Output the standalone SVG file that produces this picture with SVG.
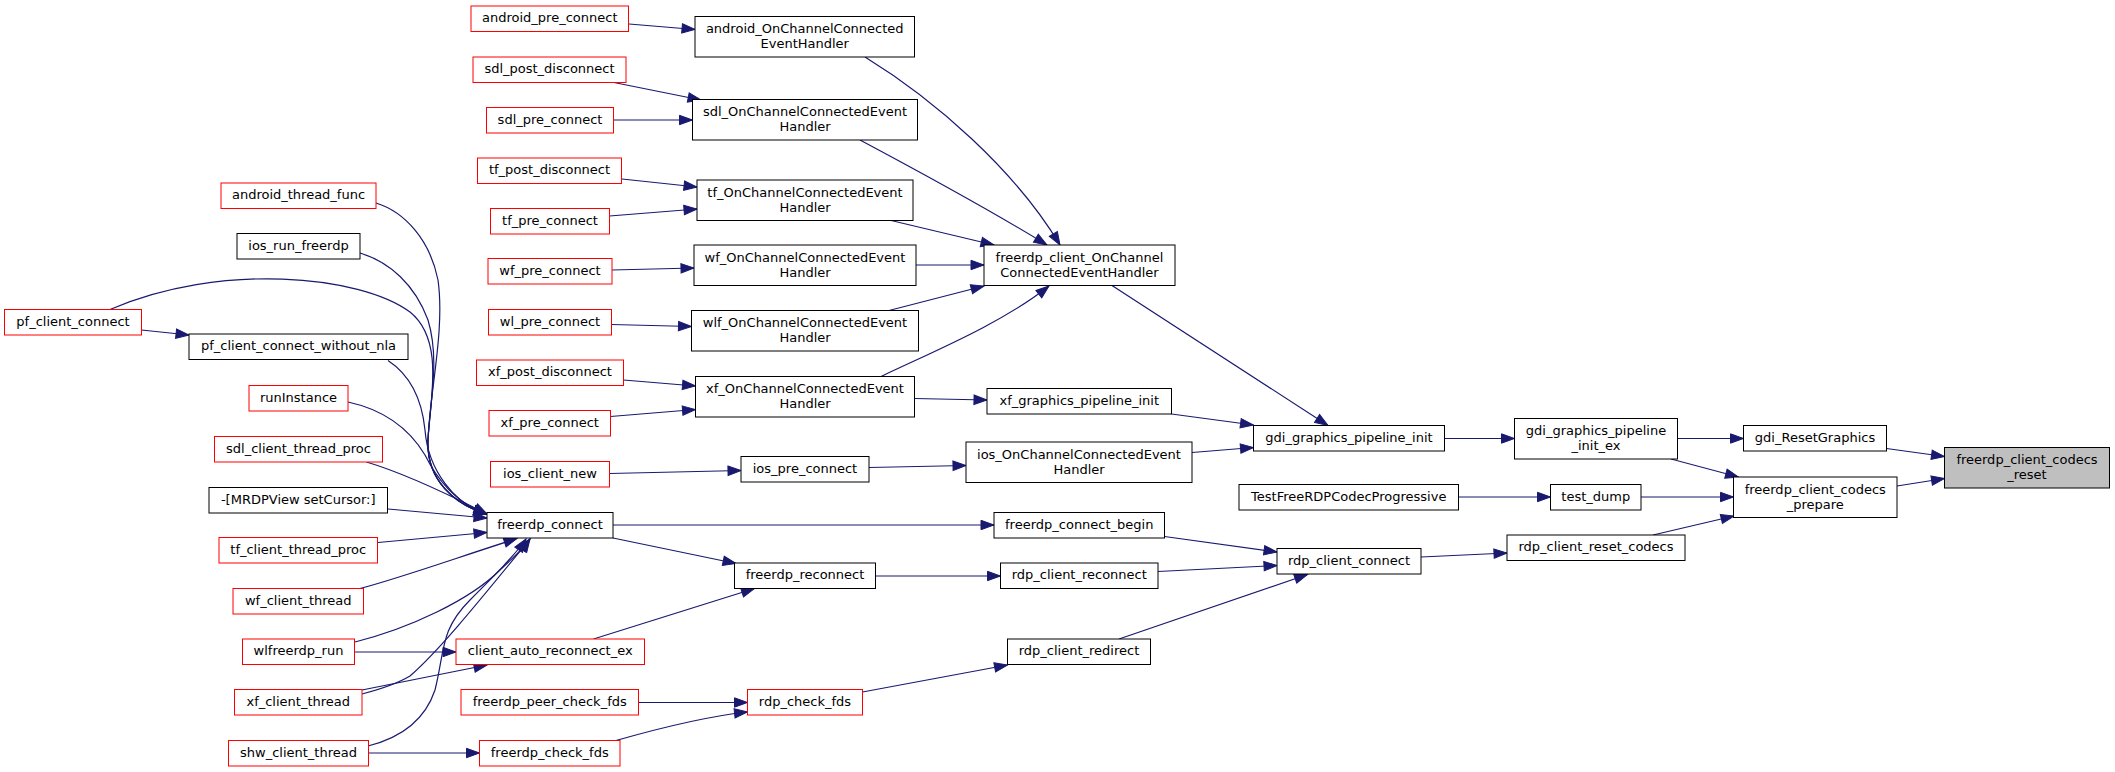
<svg xmlns="http://www.w3.org/2000/svg" width="2115" height="772" viewBox="0 0 2115 772">
<style>
.node rect{fill:#fff;stroke:#000;stroke-width:1}
.node.red rect{stroke:#ff0000}
.node.root rect{fill:#bfbfbf}
.node text{font-family:"DejaVu Sans","Liberation Sans",sans-serif;font-size:13px;fill:#000;text-anchor:middle}
#edges path{fill:none;stroke:#191970;stroke-width:1.2;marker-end:url(#ah)}
</style>
<defs>
<marker id="ah" markerUnits="userSpaceOnUse" markerWidth="14" markerHeight="10" refX="13" refY="4.7" orient="auto" overflow="visible">
<path d="M0,0 L13,4.7 L0,9.4 z" fill="#191970" stroke="#191970" stroke-width="1"/>
</marker>
</defs>
<rect width="2115" height="772" fill="#fff"/>
<g id="edges">
<path d="M629,24 L695,29.5"/>
<path d="M614,82.5 L701,100"/>
<path d="M613.5,120 L692.5,120"/>
<path d="M622,179 L697,187"/>
<path d="M609.5,216 L697,209"/>
<path d="M612,270 L694,268"/>
<path d="M611.5,324.5 L691.5,326.5"/>
<path d="M623.5,380 L695.5,386"/>
<path d="M610.5,416.5 L695.5,409.5"/>
<path d="M609.5,473.5 L741,470.5"/>
<path d="M869,467.5 L966,465.5"/>
<path d="M865,57 C935,100 1015,170 1060,245"/>
<path d="M860,140 C920,172 990,210 1047,245"/>
<path d="M889,220 L994,245"/>
<path d="M916,265 L984,265"/>
<path d="M889,310.5 L984,286"/>
<path d="M880,377 C925,355 1000,325 1049,286"/>
<path d="M914.5,398.5 L987,400"/>
<path d="M1112,285.5 L1328,425.5"/>
<path d="M1171.5,414 L1253.5,425"/>
<path d="M1192,452.5 L1253.5,447.5"/>
<path d="M1444.5,438.5 L1514.5,438.5"/>
<path d="M1677.5,438.5 L1743.5,438.5"/>
<path d="M1671,459 L1738.5,477"/>
<path d="M1886.5,448.5 L1944.5,456.5"/>
<path d="M1897,486 L1944.5,478.5"/>
<path d="M1458.5,497 L1550.5,497"/>
<path d="M1641,497 L1733.5,497"/>
<path d="M1653,535 L1734,516"/>
<path d="M1421,557 L1507,553"/>
<path d="M1164.5,536.5 L1277,552"/>
<path d="M1158,571.5 L1277,565.5"/>
<path d="M1119,639 L1307.5,574.5"/>
<path d="M613,525 L994,525"/>
<path d="M613,538 L736,563.5"/>
<path d="M593.5,639 L754.5,588.5"/>
<path d="M875.5,576 L1000.5,576"/>
<path d="M862.5,692 L1007.5,665"/>
<path d="M638.5,702.5 L747.5,702.5"/>
<path d="M616,740.5 C660,728 710,716 747.5,712"/>
<path d="M141.5,330 L189,335"/>
<path d="M110,309.5 C220,262 360,275 410,312 C445,340 430,400 428,440 C426,480 455,505 487,514"/>
<path d="M376,203 C405,212 430,240 438,280 C445,330 430,390 428,440 C426,480 455,505 487,514"/>
<path d="M360,253 C390,262 415,285 428,320 C440,360 430,400 428,440 C426,480 455,505 487,514"/>
<path d="M388,360.5 C410,375 422,400 425,430 C428,470 455,505 487,514"/>
<path d="M348,402 C385,410 410,430 425,455 C440,485 460,505 487,514"/>
<path d="M366.5,462 C400,472 440,490 487,514"/>
<path d="M388,509 L487,518"/>
<path d="M378,542.5 L487,532.5"/>
<path d="M360,588.5 C400,578 450,560 517,538.5"/>
<path d="M355,642 C410,628 470,600 500,570 C515,556 524,548 530,539"/>
<path d="M354.5,652 L456,652"/>
<path d="M362,694 C385,688 400,682 410,676 C440,650 480,600 530,539"/>
<path d="M362,690 L487,665"/>
<path d="M368,746 C400,738 425,720 435,690 C445,650 440,630 470,600 C495,575 515,555 526,539"/>
<path d="M368.5,753 L479.5,753"/>
</g>
<g id="n_android_pre_connect" class="node red"><rect x="471" y="6" width="157.5" height="25.5"/><text x="549.75" y="22">android_pre_connect</text></g>
<g id="n_sdl_post_disconnect" class="node red"><rect x="473" y="57" width="153" height="25.5"/><text x="549.5" y="73">sdl_post_disconnect</text></g>
<g id="n_sdl_pre_connect" class="node red"><rect x="486.5" y="107.5" width="127" height="25.5"/><text x="550" y="123.5">sdl_pre_connect</text></g>
<g id="n_tf_post_disconnect" class="node red"><rect x="477.5" y="158" width="144" height="25.5"/><text x="549.5" y="174">tf_post_disconnect</text></g>
<g id="n_tf_pre_connect" class="node red"><rect x="490.5" y="208.5" width="119" height="25.5"/><text x="550" y="224.5">tf_pre_connect</text></g>
<g id="n_wf_pre_connect" class="node red"><rect x="488" y="258.5" width="124" height="25.5"/><text x="550" y="274.5">wf_pre_connect</text></g>
<g id="n_wl_pre_connect" class="node red"><rect x="488.5" y="309.5" width="123" height="25.5"/><text x="550" y="325.5">wl_pre_connect</text></g>
<g id="n_xf_post_disconnect" class="node red"><rect x="476.5" y="360" width="147" height="25.5"/><text x="550" y="376">xf_post_disconnect</text></g>
<g id="n_xf_pre_connect" class="node red"><rect x="489" y="410.5" width="121.5" height="25.5"/><text x="549.75" y="426.5">xf_pre_connect</text></g>
<g id="n_ios_client_new" class="node red"><rect x="490.5" y="461.5" width="119" height="25.5"/><text x="550" y="477.5">ios_client_new</text></g>
<g id="n_freerdp_connect" class="node"><rect x="487" y="512.5" width="126" height="25.5"/><text x="550" y="528.5">freerdp_connect</text></g>
<g id="n_client_auto_reconnect_ex" class="node red"><rect x="456" y="639" width="188.5" height="25.5"/><text x="550.25" y="655">client_auto_reconnect_ex</text></g>
<g id="n_freerdp_peer_check_fds" class="node red"><rect x="461" y="689.5" width="177.5" height="25.5"/><text x="549.75" y="705.5">freerdp_peer_check_fds</text></g>
<g id="n_freerdp_check_fds" class="node red"><rect x="479.5" y="740.5" width="140.5" height="25.5"/><text x="549.75" y="756.5">freerdp_check_fds</text></g>
<g id="n_android_thread_func" class="node red"><rect x="221" y="183" width="155" height="25.5"/><text x="298.5" y="199">android_thread_func</text></g>
<g id="n_ios_run_freerdp" class="node"><rect x="237" y="233.5" width="123" height="25.5"/><text x="298.5" y="249.5">ios_run_freerdp</text></g>
<g id="n_pf_client_connect" class="node red"><rect x="4.5" y="309.5" width="137" height="25.5"/><text x="73" y="325.5">pf_client_connect</text></g>
<g id="n_pf_client_connect_without_nla" class="node"><rect x="189" y="334" width="219" height="25.5"/><text x="298.5" y="350">pf_client_connect_without_nla</text></g>
<g id="n_runInstance" class="node red"><rect x="249" y="385.5" width="99" height="25.5"/><text x="298.5" y="401.5">runInstance</text></g>
<g id="n_sdl_client_thread_proc" class="node red"><rect x="214.5" y="436.5" width="168" height="25.5"/><text x="298.5" y="452.5">sdl_client_thread_proc</text></g>
<g id="n_MRDPView_setCursor" class="node"><rect x="209" y="487.5" width="178.5" height="25.5"/><text x="298.25" y="503.5">-[MRDPView setCursor:]</text></g>
<g id="n_tf_client_thread_proc" class="node red"><rect x="219" y="537.5" width="158.5" height="25.5"/><text x="298.25" y="553.5">tf_client_thread_proc</text></g>
<g id="n_wf_client_thread" class="node red"><rect x="233" y="588.5" width="130.5" height="25.5"/><text x="298.25" y="604.5">wf_client_thread</text></g>
<g id="n_wlfreerdp_run" class="node red"><rect x="242.5" y="639" width="112" height="25.5"/><text x="298.5" y="655">wlfreerdp_run</text></g>
<g id="n_xf_client_thread" class="node red"><rect x="234.5" y="689.5" width="127.5" height="25.5"/><text x="298.25" y="705.5">xf_client_thread</text></g>
<g id="n_shw_client_thread" class="node red"><rect x="228.5" y="740.5" width="140" height="25.5"/><text x="298.5" y="756.5">shw_client_thread</text></g>
<g id="n_android_OnChannelConnectedEventHandler" class="node"><rect x="695" y="16.5" width="219.5" height="40.5"/><text x="804.75" y="33.25">android_OnChannelConnected</text><text x="804.75" y="48.25">EventHandler</text></g>
<g id="n_sdl_OnChannelConnectedEventHandler" class="node"><rect x="692.5" y="99.5" width="225" height="40.5"/><text x="805" y="116.25">sdl_OnChannelConnectedEvent</text><text x="805" y="131.25">Handler</text></g>
<g id="n_tf_OnChannelConnectedEventHandler" class="node"><rect x="697" y="180" width="216" height="40.5"/><text x="805" y="196.75">tf_OnChannelConnectedEvent</text><text x="805" y="211.75">Handler</text></g>
<g id="n_wf_OnChannelConnectedEventHandler" class="node"><rect x="694" y="245" width="222" height="40.5"/><text x="805" y="261.75">wf_OnChannelConnectedEvent</text><text x="805" y="276.75">Handler</text></g>
<g id="n_wlf_OnChannelConnectedEventHandler" class="node"><rect x="691.5" y="310.5" width="227" height="40.5"/><text x="805" y="327.25">wlf_OnChannelConnectedEvent</text><text x="805" y="342.25">Handler</text></g>
<g id="n_xf_OnChannelConnectedEventHandler" class="node"><rect x="695.5" y="376.5" width="219" height="40.5"/><text x="805" y="393.25">xf_OnChannelConnectedEvent</text><text x="805" y="408.25">Handler</text></g>
<g id="n_ios_pre_connect" class="node"><rect x="741" y="456.5" width="128" height="25.5"/><text x="805" y="472.5">ios_pre_connect</text></g>
<g id="n_freerdp_reconnect" class="node"><rect x="734.5" y="563" width="141" height="25.5"/><text x="805" y="579">freerdp_reconnect</text></g>
<g id="n_rdp_check_fds" class="node red"><rect x="747.5" y="689.5" width="115" height="25.5"/><text x="805" y="705.5">rdp_check_fds</text></g>
<g id="n_freerdp_client_OnChannelConnectedEventHandler" class="node"><rect x="984" y="245" width="191" height="40.5"/><text x="1079.5" y="261.75">freerdp_client_OnChannel</text><text x="1079.5" y="276.75">ConnectedEventHandler</text></g>
<g id="n_xf_graphics_pipeline_init" class="node"><rect x="987" y="388.5" width="184.5" height="25.5"/><text x="1079.25" y="404.5">xf_graphics_pipeline_init</text></g>
<g id="n_ios_OnChannelConnectedEventHandler" class="node"><rect x="966" y="442" width="226" height="40.5"/><text x="1079" y="458.75">ios_OnChannelConnectedEvent</text><text x="1079" y="473.75">Handler</text></g>
<g id="n_freerdp_connect_begin" class="node"><rect x="994" y="512.5" width="170.5" height="25.5"/><text x="1079.25" y="528.5">freerdp_connect_begin</text></g>
<g id="n_rdp_client_reconnect" class="node"><rect x="1000.5" y="563" width="157.5" height="25.5"/><text x="1079.25" y="579">rdp_client_reconnect</text></g>
<g id="n_rdp_client_redirect" class="node"><rect x="1007.5" y="639" width="143" height="25.5"/><text x="1079" y="655">rdp_client_redirect</text></g>
<g id="n_gdi_graphics_pipeline_init" class="node"><rect x="1253.5" y="425.5" width="191" height="25.5"/><text x="1349" y="441.5">gdi_graphics_pipeline_init</text></g>
<g id="n_TestFreeRDPCodecProgressive" class="node"><rect x="1239" y="484.5" width="219.5" height="25.5"/><text x="1348.75" y="500.5">TestFreeRDPCodecProgressive</text></g>
<g id="n_rdp_client_connect" class="node"><rect x="1277" y="548.5" width="144" height="25.5"/><text x="1349" y="564.5">rdp_client_connect</text></g>
<g id="n_gdi_graphics_pipeline_init_ex" class="node"><rect x="1514.5" y="418.5" width="163" height="40.5"/><text x="1596" y="435.25">gdi_graphics_pipeline</text><text x="1596" y="450.25">_init_ex</text></g>
<g id="n_test_dump" class="node"><rect x="1550.5" y="484.5" width="90.5" height="25.5"/><text x="1595.75" y="500.5">test_dump</text></g>
<g id="n_rdp_client_reset_codecs" class="node"><rect x="1507" y="535" width="178" height="25.5"/><text x="1596" y="551">rdp_client_reset_codecs</text></g>
<g id="n_gdi_ResetGraphics" class="node"><rect x="1743.5" y="425.5" width="143" height="25.5"/><text x="1815" y="441.5">gdi_ResetGraphics</text></g>
<g id="n_freerdp_client_codecs_prepare" class="node"><rect x="1733.5" y="477" width="163.5" height="40.5"/><text x="1815.25" y="493.75">freerdp_client_codecs</text><text x="1815.25" y="508.75">_prepare</text></g>
<g id="n_freerdp_client_codecs_reset" class="node root"><rect x="1944.5" y="447.5" width="165" height="40.5"/><text x="2027" y="464.25">freerdp_client_codecs</text><text x="2027" y="479.25">_reset</text></g>
</svg>
